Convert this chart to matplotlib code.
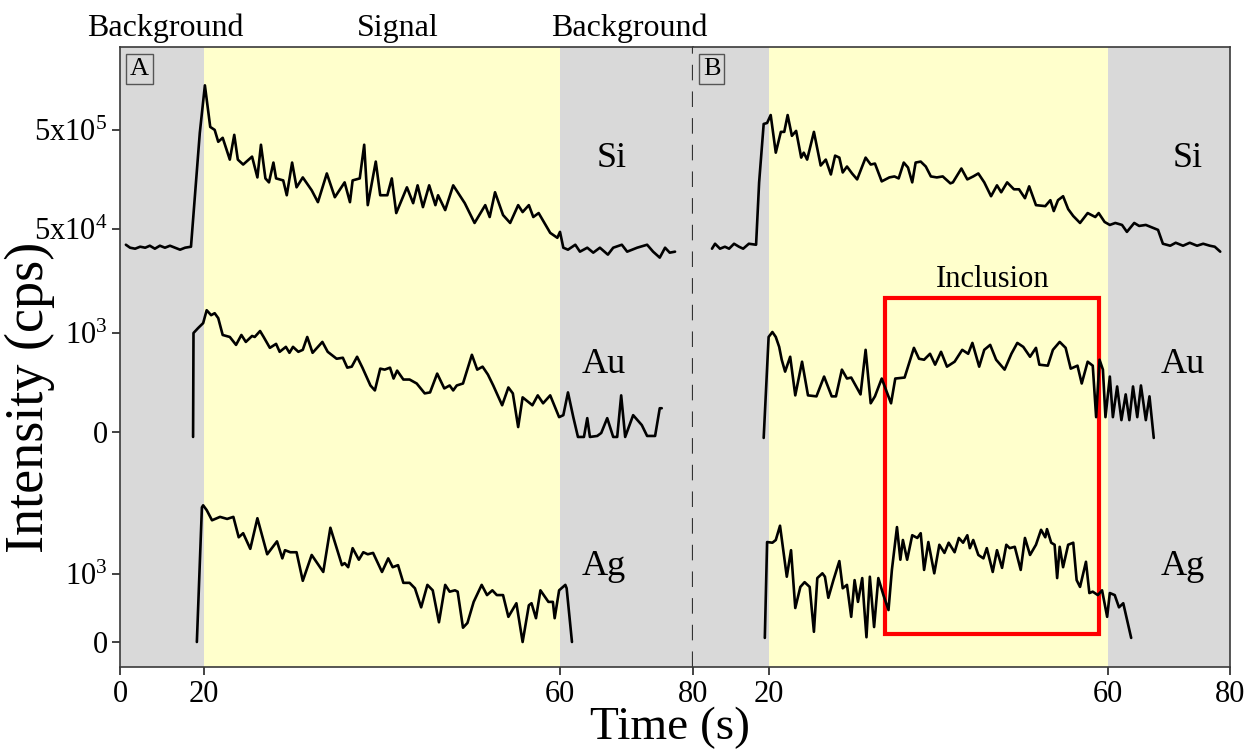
import numpy as np
import matplotlib.pyplot as plt
from matplotlib.patches import Rectangle

plt.rcParams['font.family'] = 'Liberation Serif'
plt.rcParams['mathtext.fontset'] = 'custom'
plt.rcParams['mathtext.rm'] = 'Liberation Serif'
plt.rcParams['mathtext.default'] = 'rm'

# ---- panel A (time in s, Si as log10 cps, Au/Ag in cps) ----
a_si_t = [1.4, 2.4, 3.6, 4.8, 6.0, 7.1, 8.3, 9.5, 10.7, 11.9,
          13.1, 14.3, 15.5, 16.9, 19.0, 20.1, 20.7, 21.2, 21.6, 22.1,
          22.9, 23.4, 23.8, 24.4, 25.4, 26.0, 26.4, 26.9, 27.3, 27.8,
          28.1, 28.9, 29.3, 29.9, 30.4, 31.1, 32.1, 32.8, 33.8, 34.7,
          35.8, 36.4, 36.7, 37.5, 38.0, 38.4, 39.3, 39.8, 40.6, 41.1,
          41.6, 42.8, 43.5, 44.0, 44.6, 45.3, 46.0, 46.3, 47.1, 48.0,
          49.3, 50.4, 51.6, 52.1, 52.7, 53.6, 54.4, 55.3, 55.8, 56.5,
          57.0, 57.6, 58.9, 59.7, 60.0, 60.5, 61.2, 62.3, 63.0, 64.1,
          65.0, 66.0, 67.2, 68.0, 69.3, 70.1, 71.6, 73.1, 74.0, 75.0,
          75.8, 76.5, 77.3]
a_si = [4.54, 4.51, 4.50, 4.52, 4.51, 4.53, 4.50, 4.53, 4.51, 4.53,
        4.51, 4.49, 4.51, 4.52, 5.67, 6.15, 5.73, 5.70, 5.58, 5.62,
        5.40, 5.65, 5.40, 5.35, 5.43, 5.22, 5.55, 5.21, 5.17, 5.37,
        5.21, 5.19, 5.04, 5.37, 5.12, 5.22, 5.09, 4.97, 5.26, 5.02,
        5.17, 4.97, 5.19, 5.21, 5.55, 4.94, 5.38, 5.04, 5.04, 5.21,
        4.86, 5.12, 4.96, 5.14, 4.92, 5.14, 4.94, 5.04, 4.89, 5.14,
        4.96, 4.76, 4.94, 4.82, 5.07, 4.84, 4.76, 4.94, 4.87, 4.94,
        4.82, 4.86, 4.66, 4.61, 4.67, 4.51, 4.49, 4.54, 4.47, 4.51,
        4.46, 4.51, 4.44, 4.51, 4.54, 4.47, 4.51, 4.54, 4.47, 4.41,
        4.51, 4.46, 4.47]

a_au_t = [17.4, 17.5, 18.6, 19.8, 20.3, 20.8, 21.2, 21.6, 22.1, 22.9,
          23.6, 24.2, 24.7, 25.4, 25.7, 26.3, 26.7, 27.4, 28.1, 28.5,
          29.2, 29.6, 30.0, 30.6, 31.1, 31.6, 32.2, 33.3, 33.9, 34.9,
          35.6, 36.1, 36.6, 37.2, 37.8, 38.7, 39.2, 39.8, 40.3, 40.9,
          41.3, 41.7, 42.4, 43.1, 43.9, 44.8, 45.4, 46.2, 47.0, 47.6,
          48.0, 48.4, 49.1, 50.1, 50.7, 51.3, 51.9, 52.5, 53.5, 54.2,
          54.7, 55.3, 55.8, 56.9, 57.5, 58.1, 58.9, 59.9, 60.5, 61.2,
          62.0, 62.7, 63.6, 64.1, 64.5, 65.6, 66.2, 67.1, 68.0, 68.6,
          69.2, 69.8, 71.0, 72.3, 73.1, 74.3, 75.0, 75.3]
a_au = [-50, 1000, 1050, 1100, 1230, 1180, 1200, 1150, 980, 960,
        880, 980, 910, 970, 960, 1020, 960, 850, 890, 810,
        860, 800, 860, 810, 830, 960, 800, 910, 810, 740,
        750, 650, 660, 760, 650, 470, 420, 640, 630, 650,
        540, 620, 530, 530, 490, 390, 400, 590, 440, 470,
        420, 470, 490, 780, 630, 660, 580, 470, 270, 450,
        390, 50, 350, 270, 370, 290, 370, 150, 170, 400,
        150, -50, -50, 140, -50, -40, -10, 140, -50, -50,
        370, -50, 170, 70, -40, -40, 240, 240]

a_ag_t = [18.3, 19.5, 19.8, 20.3, 20.9, 21.8, 22.6, 23.3, 23.9, 24.4,
          25.2, 26.0, 27.1, 28.2, 28.8, 29.1, 29.7, 30.4, 31.1, 32.1,
          33.4, 34.2, 35.5, 35.8, 36.2, 36.7, 37.4, 37.9, 38.4, 39.0,
          40.0, 40.7, 41.2, 41.8, 42.4, 43.1, 43.7, 44.4, 45.1, 45.7,
          46.4, 47.1, 47.6, 48.2, 48.5, 49.1, 49.6, 50.3, 51.2, 51.8,
          52.4, 52.9, 53.6, 54.2, 55.1, 55.8, 56.5, 56.8, 57.3, 57.8,
          58.7, 59.2, 59.4, 59.9, 60.8, 61.0, 61.8]
a_ag = [0, 1980, 2010, 1940, 1790, 1840, 1810, 1840, 1540, 1600,
        1370, 1820, 1290, 1480, 1230, 1350, 1320, 1320, 900, 1280,
        1030, 1680, 1130, 1160, 1100, 1380, 1210, 1320, 1290, 1310,
        1030, 1230, 1100, 1130, 870, 870, 790, 510, 840, 760,
        290, 840, 740, 760, 740, 210, 280, 590, 840, 690,
        760, 690, 690, 370, 570, 0, 540, 570, 350, 760,
        590, 590, 350, 760, 840, 790, 0]

# ---- panel B ----
b_si_t = [5.0, 5.8, 7.1, 8.4, 9.5, 10.8, 12.1, 13.2, 14.7, 16.6,
          17.4, 18.6, 19.5, 20.2, 20.8, 21.4, 21.8, 22.2, 22.7, 23.2,
          23.8, 24.1, 24.5, 25.3, 26.1, 26.7, 27.3, 27.8, 28.3, 28.7,
          29.2, 29.8, 30.4, 31.4, 32.0, 32.5, 33.3, 34.2, 34.8, 35.3,
          35.9, 36.4, 36.9, 37.3, 37.9, 38.5, 39.1, 39.8, 40.5, 41.4,
          41.7, 42.7, 43.4, 44.1, 44.7, 45.4, 46.2, 46.9, 47.4, 48.1,
          48.9, 49.5, 50.2, 50.7, 51.5, 52.6, 53.2, 53.6, 54.1, 54.7,
          55.3, 55.9, 56.7, 57.6, 58.5, 58.9, 59.6, 60.3, 61.2, 62.3,
          63.1, 64.3, 65.1, 66.2, 67.4, 68.2, 69.0, 70.2, 71.1, 72.3,
          73.4, 74.6, 75.6, 76.7, 77.5, 78.4]
b_si = [4.50, 4.55, 4.50, 4.52, 4.50, 4.55, 4.52, 4.50, 4.55, 4.54,
        5.17, 5.76, 5.77, 5.85, 5.47, 5.68, 5.68, 5.85, 5.64, 5.69,
        5.42, 5.47, 5.40, 5.68, 5.34, 5.40, 5.25, 5.44, 5.42, 5.27,
        5.33, 5.26, 5.20, 5.42, 5.35, 5.36, 5.18, 5.22, 5.23, 5.21,
        5.37, 5.32, 5.17, 5.37, 5.38, 5.33, 5.23, 5.22, 5.23, 5.16,
        5.17, 5.31, 5.20, 5.23, 5.26, 5.17, 5.03, 5.14, 5.07, 5.17,
        5.10, 5.10, 5.01, 5.13, 4.94, 4.93, 4.99, 4.88, 4.99, 5.03,
        4.90, 4.83, 4.76, 4.86, 4.82, 4.86, 4.77, 4.74, 4.76, 4.74,
        4.67, 4.76, 4.73, 4.74, 4.71, 4.69, 4.55, 4.53, 4.56, 4.53,
        4.56, 4.53, 4.55, 4.53, 4.52, 4.47]

b_au_t = [18.6, 19.9, 20.4, 20.8, 21.2, 21.5, 21.9, 22.5, 23.1, 23.9,
          24.6, 25.6, 26.5, 27.4, 27.9, 28.6, 29.2, 29.7, 30.8, 31.4,
          32.0, 32.5, 33.3, 34.4, 34.9, 36.0, 37.1, 37.7, 38.3, 39.0,
          39.6, 40.3, 41.0, 41.9, 42.8, 43.5, 44.0, 44.8, 45.4, 46.1,
          46.8, 47.8, 48.6, 49.3, 50.0, 50.8, 51.5, 51.9, 52.9, 53.5,
          54.3, 55.0, 55.6, 56.4, 56.9, 57.6, 58.2, 58.6, 59.0, 59.4,
          59.7, 60.3, 60.8, 61.5, 62.2, 62.9, 63.5, 64.1, 64.8, 65.4,
          66.2, 66.8, 67.5]
b_au = [-60, 960, 1010, 960, 860, 730, 610, 760, 370, 710,
        370, 360, 560, 360, 360, 630, 540, 550, 380, 830,
        290, 360, 540, 290, 540, 550, 850, 740, 730, 790,
        680, 810, 660, 710, 830, 790, 900, 660, 830, 880,
        730, 630, 790, 900, 860, 760, 850, 680, 670, 830,
        910, 850, 640, 670, 490, 710, 670, 150, 730, 630,
        150, 560, 150, 460, 120, 380, 120, 460, 150, 470,
        120, 360, -60]

b_ag_t = [18.9, 19.5, 20.4, 20.8, 21.3, 22.1, 22.6, 23.1, 23.7, 24.2,
          24.8, 25.3, 25.7, 26.3, 26.6, 27.0, 27.6, 28.3, 28.7, 29.2,
          29.7, 30.1, 30.5, 31.0, 31.2, 31.5, 31.9, 32.4, 32.9, 33.5,
          34.1, 34.5, 35.1, 35.5, 35.8, 36.3, 36.9, 37.5, 37.9, 38.3,
          38.8, 39.5, 40.1, 40.7, 41.2, 41.9, 42.4, 42.9, 43.4, 43.7,
          44.1, 44.7, 45.3, 45.7, 46.4, 46.9, 47.5, 48.0, 48.4, 49.0,
          49.7, 50.2, 50.8, 51.5, 52.1, 52.6, 52.8, 53.3, 53.7, 54.0,
          54.3, 54.7, 55.3, 55.9, 56.3, 56.7, 57.4, 57.8, 58.2, 58.8,
          59.3, 59.9, 60.3, 61.1, 61.8, 62.5, 63.8]
b_ag = [60, 1470, 1460, 1500, 1710, 960, 1350, 500, 810, 880,
        810, 150, 940, 1010, 960, 650, 910, 1190, 790, 840,
        370, 910, 590, 940, 570, 70, 960, 220, 940, 690,
        470, 1060, 1690, 1210, 1500, 1210, 1570, 1530, 1600, 1060,
        1470, 1010, 1430, 1310, 1460, 1320, 1530, 1460, 1570, 1380,
        1500, 1280, 1230, 1380, 1030, 1350, 1090, 1430, 1380, 1400,
        1060, 1530, 1280, 1430, 1650, 1540, 1660, 1460, 1430, 940,
        1400, 1100, 1430, 1460, 910, 810, 1180, 720, 740, 690,
        760, 370, 720, 690, 510, 570, 60]

inclusion_t = [33.7, 58.9]   # time window of the inclusion in B


# the three elements are stacked on one axis, each with its own scale
def si_y(log_cps):
    return 438 + 99 * (np.asarray(log_cps) - np.log10(5e4))

def au_y(cps):
    return 235 + 0.099 * np.asarray(cps)

def ag_y(cps):
    return 25 + 0.068 * np.asarray(cps)


# time axis is compressed in the background parts
knots = [0, 20, 60, 80]

def time_scale(ax, pos):
    fwd = lambda t: np.interp(t, knots, pos)
    inv = lambda s: np.interp(s, pos, knots)
    ax.set_xscale('function', functions=(fwd, inv))


gray = '#d9d9d9'
yellow = '#ffffcc'
frame = '#3a3a3a'

fig = plt.figure(figsize=(12.52, 7.52), dpi=100)
ax_a = fig.add_axes([120 / 1252, 85 / 752, 573 / 1252, 620 / 752])
ax_b = fig.add_axes([693 / 1252, 85 / 752, 537 / 1252, 620 / 752])

time_scale(ax_a, [0, 84, 440, 573])
time_scale(ax_b, [0, 76, 415, 537])

for ax in (ax_a, ax_b):
    ax.axvspan(0, 20, color=gray, lw=0)
    ax.axvspan(20, 60, color=yellow, lw=0)
    ax.axvspan(60, 80, color=gray, lw=0)
    ax.set_xlim(0, 80)
    ax.set_ylim(0, 620)
    for s in ax.spines.values():
        s.set_color(frame)
        s.set_linewidth(1.2)
    ax.tick_params(direction='out', length=6, width=1.2, color='#222222',
                   labelsize=22, pad=3)

ax_a.spines['right'].set_visible(False)
ax_b.spines['left'].set_visible(False)
ax_a.axvline(80, color='#333333', lw=1.6, ls=(0, (7, 5)), clip_on=False, zorder=5)

ax_a.set_xticks([0, 20, 60, 80])
ax_b.set_xticks([20, 60, 80])
ax_a.set_yticks([si_y(np.log10(5e5)), si_y(np.log10(5e4)), au_y(1000), au_y(0),
                 ag_y(1000), ag_y(0)])
ax_a.set_yticklabels(['5x10$^5$', '5x10$^4$', '10$^3$', '0', '10$^3$', '0'])
ax_b.set_yticks([])

style = dict(color='k', lw=1.9, solid_joinstyle='round', solid_capstyle='round')
ax_a.plot(a_si_t, si_y(a_si), **style)
ax_a.plot(a_au_t, au_y(a_au), **style)
ax_a.plot(a_ag_t, ag_y(a_ag), **style)
ax_b.plot(b_si_t, si_y(b_si), **style)
ax_b.plot(b_au_t, au_y(b_au), **style)
ax_b.plot(b_ag_t, ag_y(b_ag), **style)

# inclusion box
ax_b.add_patch(Rectangle((inclusion_t[0], 33), inclusion_t[1] - inclusion_t[0], 336,
                         fill=False, ec='#ff0000', lw=3, zorder=1.5))
ax_b.text(46.4, 380, 'Inclusion', ha='center', va='baseline', fontsize=22)

# element names
for ax, xs, xo in ((ax_a, 67.7, 66.6), (ax_b, 73.1, 72.3)):
    ax.text(xs, 500, 'Si', ha='center', va='baseline', fontsize=26)
    ax.text(xo, 294, 'Au', ha='center', va='baseline', fontsize=26)
    ax.text(xo, 92, 'Ag', ha='center', va='baseline', fontsize=26)

box = dict(boxstyle='square,pad=0.15', fc='none', ec='#555555', lw=1)
ax_a.text(0.0175, 0.982, 'A', transform=ax_a.transAxes, ha='left', va='top',
          fontsize=19, bbox=box)
ax_b.text(0.0186, 0.982, 'B', transform=ax_b.transAxes, ha='left', va='top',
          fontsize=19, bbox=box)

fig.text(165 / 1252, 1 - 36 / 752, 'Background', ha='center', va='baseline', fontsize=23)
fig.text(398 / 1252, 1 - 36 / 752, 'Signal', ha='center', va='baseline', fontsize=23)
fig.text(629 / 1252, 1 - 36 / 752, 'Background', ha='center', va='baseline', fontsize=23)

fig.text(30 / 1252, 1 - 397 / 752, 'Intensity (cps)', rotation=90, ha='center',
         va='center', fontsize=39)
fig.text(670 / 1252, 1 - 728 / 752, 'Time (s)', ha='center', va='center', fontsize=34)

fig.savefig('out.png', dpi=100)
